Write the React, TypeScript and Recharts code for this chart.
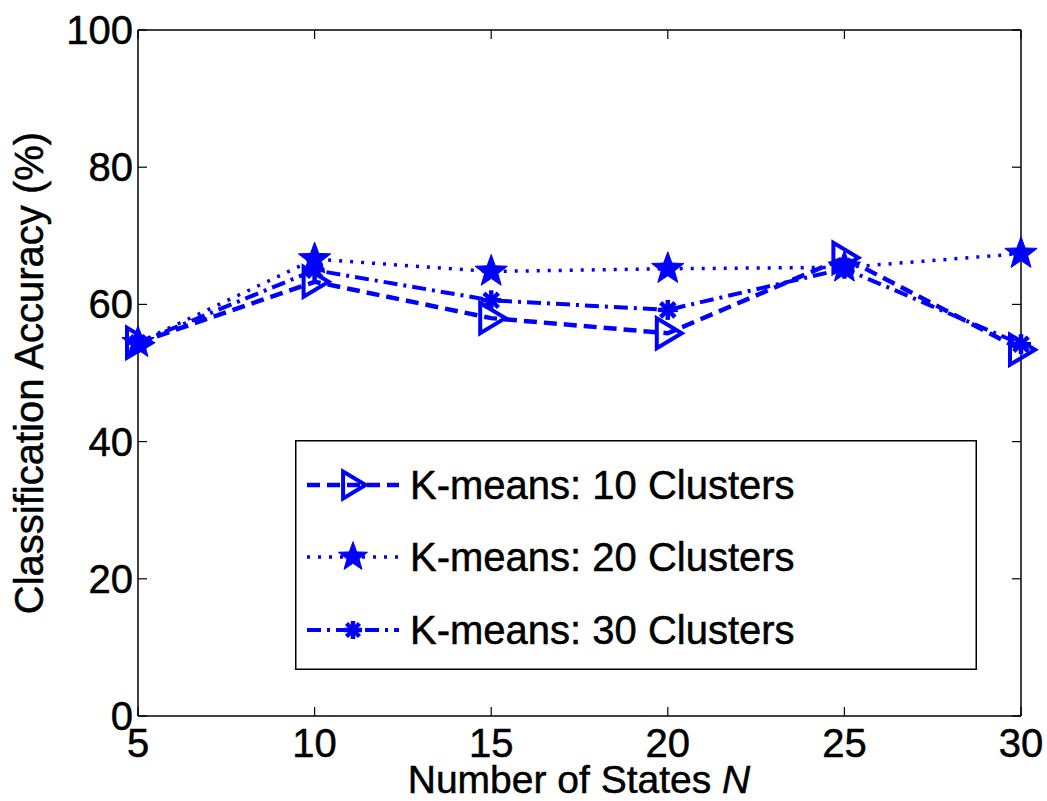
import React from 'react';
import { LineChart, Line, XAxis, YAxis, ReferenceLine, Legend } from 'recharts';

const states = [5, 10, 15, 20, 25, 30];
const km10 = [54.4, 63.3, 58.0, 55.8, 66.8, 53.4];
const km20 = [54.4, 66.6, 64.8, 65.2, 65.4, 67.4];
const km30 = [54.4, 65.0, 60.6, 59.2, 65.2, 54.2];
const seriesNames = ['K-means: 10 Clusters', 'K-means: 20 Clusters', 'K-means: 30 Clusters'];
const xTicks = [5, 10, 15, 20, 25, 30];
const yTicks = [0, 20, 40, 60, 80, 100];

const data = states.map((n, i) => ({ n, a: km10[i], b: km20[i], c: km30[i] }));

const BLUE = '#0000ff';
const FONT = '"Liberation Sans", Arial, Helvetica, sans-serif';
const W = 1047;
const H = 801;
const M_TOP = 30;
const M_RIGHT = 26;
const X_AXIS_H = 85;
const Y_AXIS_W = 138;
const PLOT_TOP = M_TOP;
const PLOT_RIGHT = W - M_RIGHT;
const TICK_LEN = 9;
const TXT = { fontSize: 40, fontFamily: FONT, fill: '#000', stroke: '#000', strokeWidth: 0.5 };

const Triangle = ({ cx, cy, s = 1 }: any) => (
  <polygon
    points={`${cx - 11 * s},${cy - 15 * s} ${cx - 11 * s},${cy + 15 * s} ${cx + 14 * s},${cy}`}
    fill="none"
    stroke={BLUE}
    strokeWidth={4}
  />
);

const Star = ({ cx, cy, s = 1 }: any) => {
  const R = 17 * s;
  const r = 7 * s;
  const pts: string[] = [];
  for (let k = 0; k < 10; k++) {
    const ang = -Math.PI / 2 + (k * Math.PI) / 5;
    const rad = k % 2 === 0 ? R : r;
    pts.push(`${cx + rad * Math.cos(ang)},${cy + rad * Math.sin(ang)}`);
  }
  return <polygon points={pts.join(' ')} fill={BLUE} stroke={BLUE} strokeWidth={1} />;
};

const Asterisk = ({ cx, cy, s = 1 }: any) => {
  const r = 10 * s;
  const d = r * 0.72;
  return (
    <g stroke={BLUE} strokeWidth={4.5} strokeLinecap="butt">
      <line x1={cx - r} y1={cy} x2={cx + r} y2={cy} />
      <line x1={cx} y1={cy - r} x2={cx} y2={cy + r} />
      <line x1={cx - d} y1={cy - d} x2={cx + d} y2={cy + d} />
      <line x1={cx - d} y1={cy + d} x2={cx + d} y2={cy - d} />
    </g>
  );
};

const XTick = (props: any) => {
  const { x, y, payload } = props;
  return (
    <g>
      <line x1={x} y1={y} x2={x} y2={y - TICK_LEN} stroke="#000" strokeWidth={1.2} />
      <line x1={x} y1={PLOT_TOP} x2={x} y2={PLOT_TOP + TICK_LEN} stroke="#000" strokeWidth={1.2} />
      <text x={x} y={y + 41} textAnchor="middle" {...TXT}>
        {payload.value}
      </text>
    </g>
  );
};

const YTick = (props: any) => {
  const { x, y, payload } = props;
  return (
    <g>
      <line x1={x} y1={y} x2={x + TICK_LEN} y2={y} stroke="#000" strokeWidth={1.2} />
      <line x1={PLOT_RIGHT} y1={y} x2={PLOT_RIGHT - TICK_LEN} y2={y} stroke="#000" strokeWidth={1.2} />
      <text x={x - 5} y={y + 14} textAnchor="end" {...TXT}>
        {payload.value}
      </text>
    </g>
  );
};

const rowY = [45, 117, 190];
const dashes = ['13 7', '3 8', '14 6 3 6'];
const widths = [4.5, 3.5, 4];
const markers = [Triangle, Star, Asterisk];

const LegendBox = () => (
  <svg width={682} height={230} style={{ display: 'block' }}>
    <rect x={0.75} y={0.75} width={680.5} height={228.5} fill="#fff" stroke="#000" strokeWidth={1.5} />
    {seriesNames.map((name, i) => {
      const cy = rowY[i];
      const Mk = markers[i];
      return (
        <g key={name}>
          <line x1={12} y1={cy} x2={104} y2={cy} stroke={BLUE} strokeWidth={widths[i]} strokeDasharray={dashes[i]} />
          <Mk cx={58} cy={cy} s={0.9} />
          <text x={115} y={cy + 14} {...TXT}>
            {name}
          </text>
        </g>
      );
    })}
  </svg>
);

export default function App() {
  return (
    <div style={{ position: 'absolute', left: 0, top: 0, width: W, height: H, background: '#fff' }}>
      <LineChart width={W} height={H} data={data} margin={{ top: M_TOP, right: M_RIGHT, bottom: 0, left: 0 }}>
        <XAxis
          dataKey="n"
          type="number"
          domain={[5, 30]}
          ticks={xTicks}
          interval={0}
          height={X_AXIS_H}
          tickSize={0}
          tickMargin={0}
          tickLine={false}
          axisLine={{ stroke: '#000', strokeWidth: 1.5 }}
          tick={<XTick />}
          label={{
            content: () => (
              <text x={579} y={793} textAnchor="middle" {...TXT} fontSize={39}>
                Number of States <tspan fontStyle="italic">N</tspan>
              </text>
            ),
          }}
        />
        <YAxis
          type="number"
          domain={[0, 100]}
          ticks={yTicks}
          interval={0}
          width={Y_AXIS_W}
          tickSize={0}
          tickMargin={0}
          tickLine={false}
          axisLine={{ stroke: '#000', strokeWidth: 1.5 }}
          tick={<YTick />}
          label={{
            content: () => (
              <text transform="translate(43,373) rotate(-90)" textAnchor="middle" {...TXT}>
                Classification Accuracy (%)
              </text>
            ),
          }}
        />
        <ReferenceLine y={100} stroke="#000" strokeWidth={1.5} />
        <ReferenceLine x={30} stroke="#000" strokeWidth={1.5} />
        <Line
          dataKey="a"
          name={seriesNames[0]}
          stroke={BLUE}
          strokeWidth={widths[0]}
          strokeDasharray={dashes[0]}
          isAnimationActive={false}
          dot={(p: any) => <Triangle key={`a-${p.index}`} cx={p.cx} cy={p.cy} />}
          activeDot={false}
        />
        <Line
          dataKey="b"
          name={seriesNames[1]}
          stroke={BLUE}
          strokeWidth={widths[1]}
          strokeDasharray={dashes[1]}
          isAnimationActive={false}
          dot={(p: any) => <Star key={`b-${p.index}`} cx={p.cx} cy={p.cy} />}
          activeDot={false}
        />
        <Line
          dataKey="c"
          name={seriesNames[2]}
          stroke={BLUE}
          strokeWidth={widths[2]}
          strokeDasharray={dashes[2]}
          isAnimationActive={false}
          dot={(p: any) => <Asterisk key={`c-${p.index}`} cx={p.cx} cy={p.cy} />}
          activeDot={false}
        />
        <Legend
          layout="vertical"
          align="center"
          verticalAlign="middle"
          wrapperStyle={{ left: 295, top: 440, width: 682, height: 230 }}
          content={() => <LegendBox />}
        />
      </LineChart>
    </div>
  );
}
